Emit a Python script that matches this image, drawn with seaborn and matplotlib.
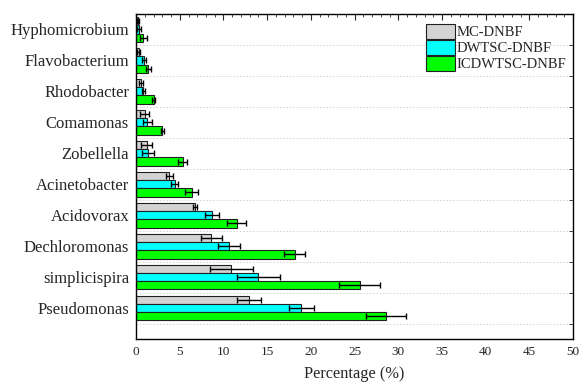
import numpy as np
import pandas as pd
import matplotlib
matplotlib.use("Agg")
import matplotlib.pyplot as plt
import seaborn as sns
from matplotlib.ticker import MultipleLocator

genera = ["Hyphomicrobium", "Flavobacterium", "Rhodobacter", "Comamonas", "Zobellella",
          "Acinetobacter", "Acidovorax", "Dechloromonas", "simplicispira", "Pseudomonas"]
groups = ["MC-DNBF", "DWTSC-DNBF", "ICDWTSC-DNBF"]

mc_mean = [0.23, 0.30, 0.60, 1.00, 1.20, 3.80, 6.75, 8.60, 10.90, 12.90]
mc_err = [0.10, 0.18, 0.23, 0.50, 0.65, 0.37, 0.25, 1.20, 2.50, 1.40]
dw_mean = [0.38, 0.92, 0.85, 1.30, 1.40, 4.40, 8.70, 10.60, 14.00, 18.90]
dw_err = [0.22, 0.20, 0.21, 0.50, 0.70, 0.38, 0.80, 1.25, 2.50, 1.40]
ic_mean = [0.85, 1.42, 2.00, 3.00, 5.35, 6.35, 11.50, 18.15, 25.60, 28.60]
ic_err = [0.40, 0.33, 0.17, 0.20, 0.50, 0.70, 1.10, 1.20, 2.35, 2.30]

colors = ["#D3D3D3", "#00FFFF", "#00FF00"]

df = pd.DataFrame({
    "Genus": genera * 3,
    "Group": [g for g in groups for _ in genera],
    "Percentage": mc_mean + dw_mean + ic_mean,
})
errs = [mc_err, dw_err, ic_err]

sns.set_style("white")
plt.rcParams["font.family"] = ["Liberation Serif", "DejaVu Serif"]

fig = plt.figure(figsize=(5.79, 3.87), dpi=100)
ax = fig.add_axes([0.235, 0.124, 0.755, 0.840])

sns.barplot(data=df, y="Genus", x="Percentage", hue="Group", order=genera,
            hue_order=groups, palette=colors, saturation=1, orient="h", errorbar=None,
            edgecolor="#202020", linewidth=0.8, ax=ax, zorder=2)

# error bars on top of each bar, positions taken from the drawn patches
for cont, e in zip(ax.containers, errs):
    ys = [p.get_y() + p.get_height() / 2 for p in cont]
    xs = [p.get_width() for p in cont]
    ax.errorbar(xs, ys, xerr=e, fmt="none", ecolor="black", elinewidth=1.0,
                capsize=2.5, capthick=1.0, zorder=3)

ax.set_xlim(0, 50)
ax.set_ylim(len(genera) + 0.0, -0.5)
ax.xaxis.set_major_locator(MultipleLocator(5))
ax.xaxis.set_minor_locator(MultipleLocator(1))
ax.set_yticks(np.arange(len(genera)) + 0.5, minor=True)
ax.grid(False)
ax.grid(which="minor", axis="y", color="#D0D0D0", linestyle=(0, (2, 2)), linewidth=0.6, zorder=0)
ax.tick_params(axis="both", which="both", direction="in", top=True, right=True)
ax.tick_params(axis="x", which="major", length=4, labelsize=9.5, pad=5)
ax.tick_params(axis="x", which="minor", length=2)
ax.tick_params(axis="y", which="major", length=0, labelsize=12, pad=5)
ax.tick_params(axis="y", which="minor", length=3)
for s in ax.spines.values():
    s.set_color("black")
    s.set_linewidth(1.0)

ax.set_xlabel("Percentage (%)", fontsize=11.8, labelpad=6)
ax.set_ylabel("")

ax.legend(loc="upper right", bbox_to_anchor=(1.005, 0.995), frameon=False, fontsize=10.5,
          handlelength=2.0, handleheight=1.15, handletextpad=0.15, labelspacing=0.05,
          borderaxespad=0.2)

fig.savefig("out.png", dpi=100)
